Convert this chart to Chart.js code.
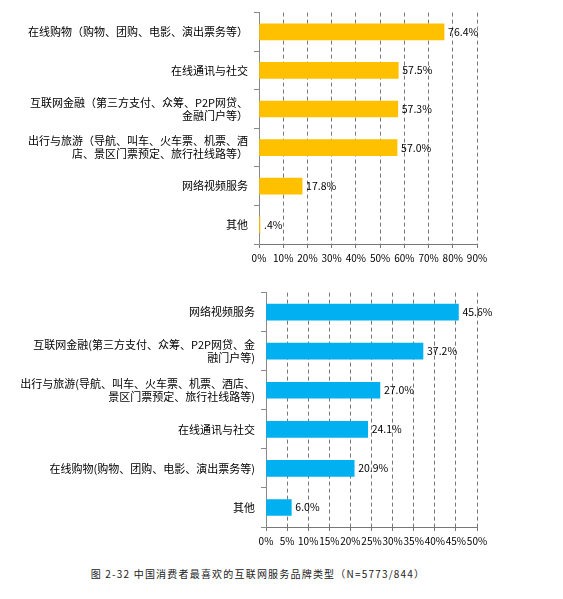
<!DOCTYPE html>
<html><head><meta charset="utf-8">
<script src="https://cdn.jsdelivr.net/npm/chart.js@4"></script>
<style>
body{margin:0;background:#fff;width:563px;height:599px;position:relative;overflow:hidden;font-family:"Noto Sans CJK SC",sans-serif}
.c{position:absolute;left:0;width:563px;height:270px}
#cap{position:absolute;top:566px;left:0;width:516px;text-align:center;font-size:10px;letter-spacing:1.2px;color:#222;font-family:"Noto Sans CJK SC",monospace}
</style></head><body>
<div class="c" style="top:0"><canvas id="c1"></canvas></div>
<div class="c" style="top:280px"><canvas id="c2"></canvas></div>
<div id="cap">图 2-32 中国消费者最喜欢的互联网服务品牌类型（N=5773/844）</div>
<script>
const cats1=[["在线购物（购物、团购、电影、演出票务等）"],["在线通讯与社交"],["互联网金融（第三方支付、众筹、P2P网贷、","金融门户等）"],["出行与旅游（导航、叫车、火车票、机票、酒","店、景区门票预定、旅行社线路等）"],["网络视频服务"],["其他"]];
const vals1=[76.4,57.5,57.3,57.0,17.8,0.4];
const lbls1=["76.4%","57.5%","57.3%","57.0%","17.8%",".4%"];
const cats2=[["网络视频服务"],["互联网金融(第三方支付、众筹、P2P网贷、金","融门户等)"],["出行与旅游(导航、叫车、火车票、机票、酒店、","景区门票预定、旅行社线路等)"],["在线通讯与社交"],["在线购物(购物、团购、电影、演出票务等)"],["其他"]];
const vals2=[45.6,37.2,27.0,24.1,20.9,6.0];
const lbls2=["45.6%","37.2%","27.0%","24.1%","20.9%","6.0%"];
const font={family:"Noto Sans CJK SC",size:10};
function mk(id,cats,vals,lbls,color,max,step,leftW,top,xh){
 new Chart(document.getElementById(id),{type:'bar',
 data:{labels:cats,datasets:[{data:vals,backgroundColor:color,barThickness:16}]},
 options:{indexAxis:'y',responsive:true,maintainAspectRatio:false,animation:false,
  layout:{padding:{top:top,right:86,bottom:0,left:0}},
  plugins:{legend:{display:false},tooltip:{enabled:false}},
  scales:{
   x:{min:0,max:max,ticks:{stepSize:step,autoSkip:false,color:'#000',font:font,callback:v=>v+'%',maxRotation:0,padding:4},
      grid:{color:'#777',tickLength:4},border:{color:'#777',dash:[4,3]},
      afterFit:s=>{s.height=xh}},
   y:{ticks:{color:'#000',font:{family:"Noto Sans CJK SC",size:11},padding:6},
      grid:{offset:true,drawOnChartArea:false,color:'#888',tickLength:5},border:{color:'#888'},
      afterFit:s=>{s.width=leftW}}
  }},
 plugins:[{id:'dl',afterDatasetsDraw(ch){const c=ch.ctx;const m=ch.getDatasetMeta(0);c.save();c.font='10.5px "Noto Sans CJK SC"';c.fillStyle='#000';c.textBaseline='middle';
  m.data.forEach((b,i)=>{c.fillText(lbls[i],b.x+4,b.y);});c.restore();}}]
 });
}
mk('c1',cats1,vals1,lbls1,'#FFC000',90,10,259,7,26);
mk('c2',cats2,vals2,lbls2,'#00B0F0',50,5,266,10,23);
</script></body></html>
